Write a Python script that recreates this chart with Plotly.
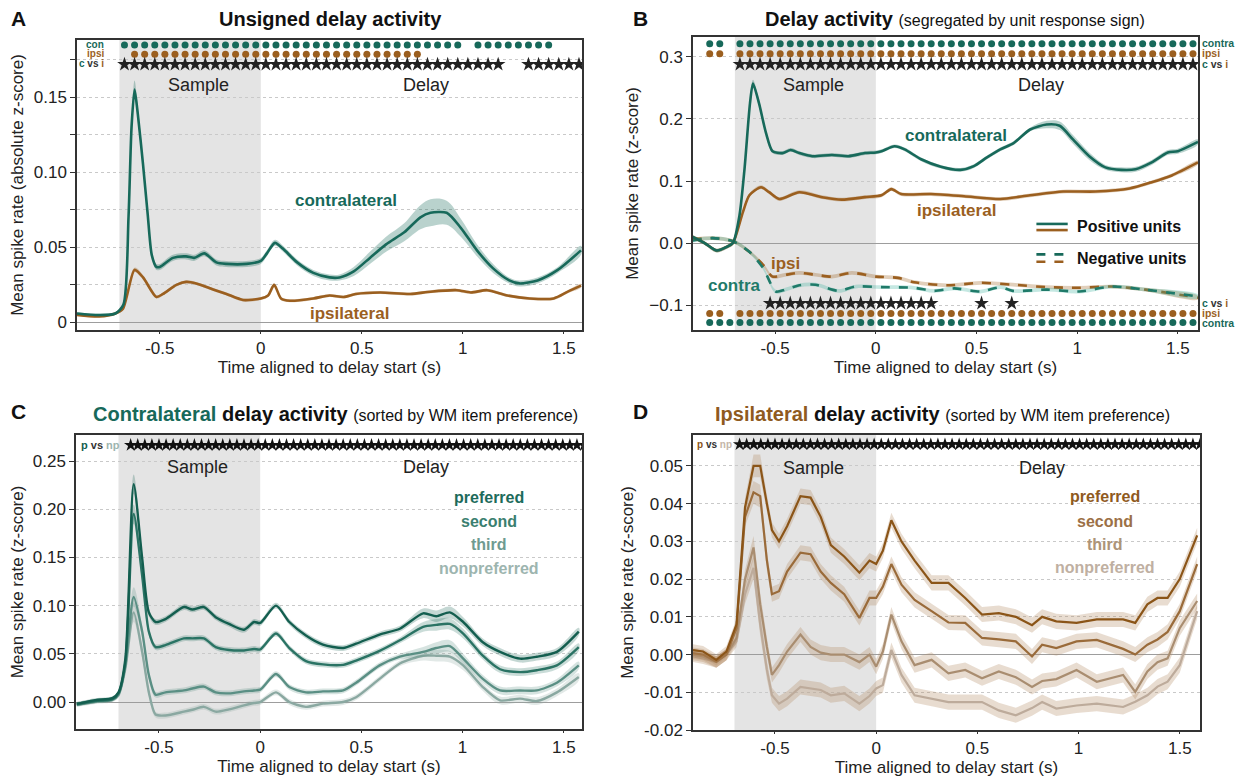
import numpy as np
import plotly.graph_objects as go

FONT = "Liberation Sans, Arial, sans-serif"
CONTRA = "#17695a"
IPSI = "#9b5f1f"
GRID = "#c9c9c9"
SAMPLE_FILL = "#e4e4e4"
SAMPLE_START, DELAY_START = -0.7, 0.0
BIN = 0.05
BIN_CD = 0.035

# ---------------- Panel A: unsigned activity ----------------
A_T_CON = [-0.91, -0.80, -0.72, -0.68, -0.655, -0.64, -0.625, -0.61, -0.583, -0.56, -0.54, -0.517, -0.50,
           -0.435, -0.37, -0.33, -0.28, -0.22, -0.17, -0.07, 0.0, 0.03, 0.07, 0.11, 0.18, 0.26, 0.34, 0.39,
           0.46, 0.54, 0.62, 0.71, 0.79, 0.84, 0.92, 0.99, 1.07, 1.15, 1.23, 1.28, 1.37, 1.47, 1.585]
A_CON = [0.006, 0.005, 0.006, 0.012, 0.070, 0.130, 0.155, 0.140, 0.105, 0.072, 0.045, 0.037, 0.037,
         0.043, 0.044, 0.043, 0.046, 0.040, 0.039, 0.039, 0.041, 0.046, 0.053, 0.049, 0.040, 0.033, 0.030, 0.030,
         0.034, 0.043, 0.052, 0.060, 0.070, 0.073, 0.073, 0.063, 0.048, 0.036, 0.028, 0.026, 0.028, 0.035, 0.048]
A_CON_SEM = [0.0008, 0.0008, 0.0008, 0.0015, 0.004, 0.005, 0.006, 0.005, 0.004, 0.003, 0.002, 0.002, 0.002,
             0.002, 0.002, 0.002, 0.002, 0.002, 0.002, 0.002, 0.002, 0.002, 0.002, 0.002, 0.002, 0.002, 0.002, 0.002,
             0.003, 0.004, 0.005, 0.006, 0.008, 0.009, 0.008, 0.006, 0.004, 0.003, 0.002, 0.002, 0.002, 0.002, 0.003]
A_T_IPSI = [-0.91, -0.80, -0.72, -0.683, -0.625, -0.583, -0.517, -0.484, -0.418, -0.37, -0.32, -0.236, -0.17,
            -0.088, 0.0, 0.036, 0.066, 0.10, 0.144, 0.26, 0.34, 0.41, 0.47, 0.59, 0.74, 0.84, 0.97, 1.04, 1.12,
            1.22, 1.33, 1.45, 1.52, 1.585]
A_IPSI = [0.005, 0.004, 0.006, 0.009, 0.035, 0.030, 0.017, 0.019, 0.025, 0.027, 0.026, 0.022, 0.019,
          0.015, 0.016, 0.018, 0.025, 0.016, 0.0145, 0.016, 0.018, 0.017, 0.019, 0.020, 0.019, 0.0205, 0.0215,
          0.020, 0.0215, 0.018, 0.016, 0.016, 0.0205, 0.0245]
A_IPSI_SEM = [0.0006] * 3 + [0.001, 0.0015, 0.0015] + [0.001] * 27 + [0.0012]
A_CON_SIG = [(-0.675, 0.975), (1.075, 1.425)]
A_IPSI_SIG = [(-0.625, 0.775)]
A_CVI_SIG = [(-0.675, 1.175), (1.325, 1.575)]

# ---------------- Panel B: signed activity ----------------
B_T_CON_POS = [-0.91, -0.85, -0.79, -0.74, -0.71, -0.677, -0.652, -0.625, -0.61, -0.58, -0.546, -0.513, -0.464,
               -0.423, -0.38, -0.316, -0.218, -0.136, -0.054, 0.0, 0.028, 0.093, 0.143, 0.225, 0.323, 0.42,
               0.487, 0.552, 0.618, 0.684, 0.766, 0.848, 0.913, 0.979, 1.06, 1.14, 1.22, 1.29, 1.37, 1.45, 1.50, 1.60]
B_CON_POS = [0.010, 0.0, -0.012, -0.006, 0.0, 0.045, 0.120, 0.225, 0.257, 0.225, 0.178, 0.148, 0.145,
             0.150, 0.145, 0.140, 0.142, 0.140, 0.145, 0.146, 0.148, 0.156, 0.151, 0.135, 0.123, 0.118,
             0.124, 0.138, 0.151, 0.161, 0.183, 0.191, 0.189, 0.167, 0.140, 0.122, 0.118, 0.119, 0.130, 0.146, 0.148, 0.163]
B_CON_POS_SEM = [0.003] * 5 + [0.004, 0.005, 0.006, 0.006, 0.005, 0.004] + [0.003] * 20 + [0.006, 0.007, 0.007, 0.006] + [0.004] * 7
B_T_IPSI_POS = [-0.91, -0.85, -0.79, -0.74, -0.71, -0.66, -0.628, -0.57, -0.53, -0.48, -0.38, -0.267, -0.169,
                -0.054, 0.028, 0.077, 0.126, 0.274, 0.438, 0.618, 0.766, 0.93, 1.09, 1.26, 1.37, 1.47, 1.60]
B_IPSI_POS = [0.010, 0.0, -0.012, -0.006, 0.0, 0.050, 0.077, 0.090, 0.082, 0.071, 0.082, 0.074, 0.070,
              0.074, 0.077, 0.087, 0.079, 0.079, 0.0755, 0.071, 0.077, 0.083, 0.083, 0.088, 0.098, 0.109, 0.130]
B_IPSI_POS_SEM = [0.003] * 27
B_T_CON_NEG = [-0.91, -0.81, -0.71, -0.628, -0.56, -0.497, -0.45, -0.38, -0.30, -0.185, -0.10, 0.028, 0.19,
               0.29, 0.39, 0.52, 0.62, 0.68, 0.85, 1.01, 1.175, 1.34, 1.60]
B_CON_NEG = [0.004, 0.008, 0.003, -0.014, -0.040, -0.078, -0.075, -0.068, -0.067, -0.077, -0.070, -0.071, -0.072,
             -0.077, -0.073, -0.078, -0.071, -0.077, -0.075, -0.078, -0.070, -0.075, -0.086]
B_CON_NEG_SEM = [0.003] * 23
B_T_IPSI_NEG = [-0.91, -0.81, -0.71, -0.628, -0.56, -0.513, -0.464, -0.38, -0.30, -0.218, -0.12, 0.0, 0.11,
                0.19, 0.356, 0.52, 0.68, 0.85, 1.01, 1.175, 1.34, 1.60]
B_IPSI_NEG = [0.006, 0.008, 0.003, -0.014, -0.035, -0.054, -0.052, -0.048, -0.051, -0.054, -0.048, -0.054, -0.056,
              -0.063, -0.068, -0.064, -0.067, -0.071, -0.072, -0.070, -0.075, -0.088]
B_IPSI_NEG_SEM = [0.003] * 22
B_TOP_CON_SIG = [(-0.825, -0.775), (-0.675, 1.575)]
B_TOP_IPSI_SIG = [(-0.825, -0.775), (-0.675, 1.575)]
B_TOP_CVI_SIG = [(-0.675, 1.575)]
B_BOT_CVI_SIG = [(-0.525, 0.275), (0.525, 0.525), (0.675, 0.675)]
B_BOT_IPSI_SIG = [(-0.825, -0.775), (-0.675, 1.575)]
B_BOT_CON_SIG = [(-0.825, 1.575)]

# ---------------- Panel C: contralateral by preference ----------------
C_T = [-0.906, -0.815, -0.73, -0.70, -0.666, -0.625, -0.583, -0.55, -0.517, -0.468, -0.377, -0.335, -0.278,
       -0.22, -0.154, -0.08, -0.03, 0.0, 0.078, 0.144, 0.226, 0.31, 0.41, 0.474, 0.59, 0.69, 0.805, 0.87,
       0.937, 1.003, 1.10, 1.185, 1.284, 1.367, 1.466, 1.574]
C_PREF = [-0.002, 0.002, 0.004, 0.010, 0.045, 0.226, 0.149, 0.093, 0.083, 0.086, 0.0985, 0.096, 0.0985,
          0.088, 0.081, 0.075, 0.083, 0.082, 0.100, 0.083, 0.069, 0.0595, 0.056, 0.0605, 0.070, 0.076, 0.092, 0.089,
          0.093, 0.083, 0.062, 0.052, 0.045, 0.047, 0.052, 0.073]
C_SECOND = [-0.002, 0.001, 0.003, 0.009, 0.041, 0.195, 0.131, 0.073, 0.057, 0.059, 0.066, 0.066, 0.066,
            0.057, 0.054, 0.0535, 0.055, 0.0545, 0.071, 0.056, 0.0425, 0.039, 0.0385, 0.043, 0.053, 0.064, 0.078, 0.080,
            0.081, 0.071, 0.048, 0.034, 0.031, 0.033, 0.038, 0.057]
C_THIRD = [-0.003, 0.001, 0.003, 0.008, 0.038, 0.109, 0.073, 0.028, 0.0076, 0.010, 0.012, 0.014, 0.016,
           0.010, 0.009, 0.011, 0.012, 0.0128, 0.029, 0.0155, 0.010, 0.011, 0.012, 0.020, 0.038, 0.047, 0.052, 0.056,
           0.058, 0.045, 0.024, 0.012, 0.012, 0.012, 0.020, 0.038]
C_NONPREF = [-0.003, 0.0, 0.002, 0.007, 0.035, 0.093, 0.052, 0.010, -0.013, -0.014, -0.010, -0.008, -0.005,
             -0.010, -0.0076, -0.0035, -0.001, 0.0, 0.010, 0.0, -0.005, -0.0017, 0.0, 0.005, 0.024, 0.040, 0.048, 0.048,
             0.047, 0.038, 0.0155, 0.0017, 0.0035, 0.001, 0.010, 0.026]
C_SEM = [0.002] * 4 + [0.004, 0.010, 0.006, 0.004] + [0.003] * 18 + [0.005, 0.006, 0.006, 0.005] + [0.004] * 6
C_SIG = [(-0.64, 1.6)]

# ---------------- Panel D: ipsilateral by preference ----------------
D_T = [-0.905, -0.855, -0.79, -0.74, -0.69, -0.648, -0.606, -0.573, -0.54, -0.515, -0.48, -0.44, -0.374, -0.324,
       -0.274, -0.224, -0.158, -0.083, -0.033, 0.0, 0.033, 0.075, 0.125, 0.19, 0.274, 0.357, 0.44, 0.523,
       0.606, 0.69, 0.77, 0.82, 0.89, 0.99, 1.09, 1.22, 1.28, 1.34, 1.39, 1.44, 1.50, 1.586]
D_PREF = [0.0012, 0.0008, -0.0014, 0.0008, 0.008, 0.039, 0.050, 0.050, 0.040, 0.033, 0.030, 0.034, 0.042, 0.0416,
          0.0365, 0.029, 0.026, 0.0217, 0.0249, 0.024, 0.0275, 0.0356, 0.030, 0.0249, 0.019, 0.019, 0.015, 0.0106,
          0.011, 0.010, 0.0078, 0.010, 0.0088, 0.0084, 0.0093, 0.0093, 0.0084, 0.0133, 0.015, 0.015, 0.020, 0.0316]
D_SECOND = [0.0004, 0.0, -0.0019, 0.0, 0.007, 0.0365, 0.043, 0.042, 0.025, 0.016, 0.0168, 0.022, 0.027, 0.0266,
            0.022, 0.019, 0.016, 0.0097, 0.015, 0.015, 0.018, 0.024, 0.0185, 0.0145, 0.0115, 0.0085, 0.0084, 0.0044,
            0.0040, 0.0035, -0.0005, 0.0026, 0.0017, 0.0035, 0.0039, 0.0015, 0.0, 0.0026, 0.004, 0.006, 0.0115, 0.024]
D_THIRD = [0.0, -0.0005, -0.002, 0.0, 0.0044, 0.020, 0.0284, 0.0133, 0.002, -0.0054, -0.0028, 0.0008, 0.0053, 0.002,
           0.0005, 0.0, 0.0, -0.002, 0.0, -0.0032, 0.0008, 0.0106, 0.0035, -0.0028, -0.0014, -0.005, -0.0041, -0.0063,
           -0.0045, -0.006, -0.0086, -0.007, -0.0065, -0.0041, -0.0072, -0.0054, -0.0099, -0.0045, -0.002, -0.001, 0.007, 0.0142]
D_NONPREF = [-0.0005, -0.001, -0.002, 0.0, 0.0035, 0.016, 0.023, 0.008, -0.004, -0.0108, -0.013, -0.0117, -0.0086,
             -0.009, -0.0094, -0.0108, -0.0103, -0.013, -0.011, -0.009, -0.0081, 0.0012, -0.0054, -0.0108, -0.0117,
             -0.0126, -0.0126, -0.0126, -0.0148, -0.0161, -0.0142, -0.0126, -0.0143, -0.0135, -0.013, -0.0139, -0.0125,
             -0.0108, -0.0085, -0.0072, -0.0028, 0.0115]
D_SEM = [0.0015] * 5 + [0.0025, 0.003, 0.003, 0.0025] + [0.002] * 33
D_SIG = [(-0.675, 1.6)]

C_COLORS = ["#135e4f", "#2a7364", "#5a8f84", "#8aa8a1"]
C_TEXT = ["#1d6b5b", "#3b7f70", "#6e9b91", "#9db5af"]
D_COLORS = ["#8b5518", "#9a6b3a", "#a98d70", "#bdab9b"]
D_TEXT = ["#8f5a1e", "#9c7046", "#ad9478", "#bfb0a2"]
CURVE_NAMES = ["preferred", "second", "third", "nonpreferred"]


def rgba(hexc, a):
    h = hexc.lstrip("#")
    return "rgba(%d,%d,%d,%.2f)" % (int(h[0:2], 16), int(h[2:4], 16), int(h[4:6], 16), a)


def expand(segments, step):
    out = []
    for s, e in segments:
        out.extend(np.round(np.arange(s, e + step * 0.5, step), 4).tolist())
    return out


fig = go.Figure()


def add_curve(ax, t, v, sem, color, dash="solid", width=2.6, band_alpha=0.3, band_color=None, shape="spline"):
    xa, ya = ("x", "y") if ax == 1 else ("x%d" % ax, "y%d" % ax)
    t = list(t)
    up = [a + b for a, b in zip(v, sem)]
    lo = [a - b for a, b in zip(v, sem)]
    fig.add_trace(go.Scatter(x=t + t[::-1], y=up + lo[::-1], fill="toself",
                             fillcolor=rgba(band_color or color, band_alpha), line=dict(width=0, shape=shape),
                             hoverinfo="skip", showlegend=False, xaxis=xa, yaxis=ya))
    fig.add_trace(go.Scatter(x=t, y=v, mode="lines", line=dict(color=color, width=width, dash=dash, shape=shape,
                                                                smoothing=0.7),
                             showlegend=False, xaxis=xa, yaxis=ya))


def add_sig(ax, times, yval, color, symbol="circle", size=7):
    xa, ya = ("x", "y") if ax == 1 else ("x%d" % ax, "y%d" % ax)
    fig.add_trace(go.Scatter(x=times, y=[yval] * len(times), mode="markers",
                             marker=dict(symbol=symbol, color=color, size=size, line=dict(width=0)),
                             showlegend=False, xaxis=xa, yaxis=ya, cliponaxis=True))


# Panel A
add_curve(1, A_T_IPSI, A_IPSI, A_IPSI_SEM, IPSI)
add_curve(1, A_T_CON, A_CON, A_CON_SEM, CONTRA)
add_sig(1, expand(A_CON_SIG, BIN), 0.1847, CONTRA)
add_sig(1, expand(A_IPSI_SIG, BIN), 0.1785, IPSI)
add_sig(1, expand(A_CVI_SIG, BIN), 0.1718, "#222222", "star", 11)

# Panel B
add_curve(2, B_T_IPSI_NEG, B_IPSI_NEG, B_IPSI_NEG_SEM, IPSI, dash="dash")
add_curve(2, B_T_CON_NEG, B_CON_NEG, B_CON_NEG_SEM, "#1f7a69", dash="dash", band_color="#3fb3a0")
add_curve(2, B_T_IPSI_POS, B_IPSI_POS, B_IPSI_POS_SEM, IPSI)
add_curve(2, B_T_CON_POS, B_CON_POS, B_CON_POS_SEM, CONTRA)
add_sig(2, expand(B_TOP_CON_SIG, BIN), 0.321, CONTRA)
add_sig(2, expand(B_TOP_IPSI_SIG, BIN), 0.305, IPSI)
add_sig(2, expand(B_TOP_CVI_SIG, BIN), 0.288, "#222222", "star", 11)
add_sig(2, expand(B_BOT_CVI_SIG, BIN), -0.097, "#222222", "star", 11)
add_sig(2, expand(B_BOT_IPSI_SIG, BIN), -0.1135, IPSI)
add_sig(2, expand(B_BOT_CON_SIG, BIN), -0.128, CONTRA)

# Panel C (draw nonpreferred first)
for i in [3, 2, 1, 0]:
    vals = [C_PREF, C_SECOND, C_THIRD, C_NONPREF][i]
    add_curve(3, C_T, vals, C_SEM, C_COLORS[i], width=2.4, band_alpha=0.25)
add_sig(3, expand(C_SIG, BIN_CD), 0.2665, "#111111", "star", 10)

# Panel D
for i in [3, 2, 1, 0]:
    vals = [D_PREF, D_SECOND, D_THIRD, D_NONPREF][i]
    add_curve(4, D_T, vals, D_SEM, D_COLORS[i], width=2.2, band_alpha=0.3, band_color="#b48c64", shape="linear")
add_sig(4, expand(D_SIG, BIN_CD), 0.0557, "#111111", "star", 10)

# The page body has an 8px margin, so the figure is drawn 8px smaller and positions are offset.
OFF = 8
W, H = 1251 - OFF, 778 - OFF


def px(x0, x1):
    return [(x0 - OFF) / W, (x1 - OFF) / W]


def py(y0, y1):
    return [1 - (y1 - OFF) / H, 1 - (y0 - OFF) / H]


def pxp(x):
    return (x - OFF) / W


def pyp(y):
    return 1 - (y - OFF) / H


XT = [-0.5, 0, 0.5, 1, 1.5]
XTT = ["-0.5", "0", "0.5", "1", "1.5"]
tickfont = dict(family=FONT, size=17, color="#222222")
titlefont = dict(family=FONT, size=17, color="#222222")


def xaxis(dom, anchor):
    return dict(domain=dom, anchor=anchor, range=[-0.91, 1.59], tickvals=XT, ticktext=XTT, showgrid=False,
                zeroline=False, showline=True, linecolor="#333333", linewidth=1.5, mirror=True, ticks="outside",
                ticklen=2, tickcolor="#333333", tickfont=tickfont, automargin=False,
                title=dict(text="Time aligned to delay start (s)", font=titlefont, standoff=1))


def yaxis(dom, anchor, rng, tv, tt, title, zl=True):
    return dict(domain=dom, anchor=anchor, range=rng, tickvals=tv, ticktext=tt, showgrid=True, gridcolor=GRID,
                griddash="dot", gridwidth=1, zeroline=zl, zerolinecolor="#9d9d9d", zerolinewidth=1,
                showline=True, linecolor="#333333", linewidth=1.5, mirror=True, ticks="outside", ticklen=5,
                tickcolor="#333333", tickfont=tickfont, automargin=False,
                title=dict(text=title, font=titlefont, standoff=6))


A_YT = [0, 0.025, 0.05, 0.075, 0.10, 0.125, 0.15, 0.175]
A_YTT = ["0", "", "0.05", "", "0.10", "", "0.15", ""]
B_YT = [-0.1, 0.0, 0.1, 0.2, 0.3]
B_YTT = ["\u22120.1", "0.0", "0.1", "0.2", "0.3"]
C_YT = [0.0, 0.05, 0.10, 0.15, 0.20, 0.25]
C_YTT = ["0.00", "0.05", "0.10", "0.15", "0.20", "0.25"]
D_YT = [-0.02, -0.01, 0.0, 0.01, 0.02, 0.03, 0.04, 0.05]
D_YTT = ["-0.02", "-0.01", "0.00", "0.01", "0.02", "0.03", "0.04", "0.05"]

layout = dict(
    width=W, height=H, margin=dict(l=0, r=0, t=0, b=0, autoexpand=False), plot_bgcolor="white",
    paper_bgcolor="white", font=dict(family=FONT, color="#222222"), showlegend=False,
    xaxis=xaxis(px(77, 582), "y"),
    yaxis=yaxis(py(40, 330), "x", [-0.005, 0.188], A_YT, A_YTT, "Mean spike rate (absolute z-score)"),
    xaxis2=xaxis(px(693, 1198), "y2"),
    yaxis2=yaxis(py(37, 330), "x2", [-0.14, 0.332], B_YT, B_YTT, "Mean spike rate (z-score)"),
    xaxis3=xaxis(px(76, 582), "y3"),
    yaxis3=yaxis(py(435, 729), "x3", [-0.028, 0.277], C_YT, C_YTT, "Mean spike rate (z-score)"),
    xaxis4=xaxis(px(693, 1200), "y4"),
    yaxis4=yaxis(py(435, 730), "x4", [-0.02, 0.0582], D_YT, D_YTT, "Mean spike rate (z-score)"),
)
fig.update_layout(**layout)
fig.layout.xaxis2.range = [-0.908, 1.6]
fig.layout.xaxis4.range = [-0.905, 1.6]

# sample shading
shapes = []
for k in ["", "2", "3", "4"]:
    shapes.append(dict(type="rect", xref="x" + k, yref="y%s domain" % k, x0=SAMPLE_START, x1=DELAY_START,
                       y0=0, y1=1, fillcolor=SAMPLE_FILL, line=dict(width=0), layer="below"))

# legend glyphs in B
for yy, col, dash in [(0.362, CONTRA, "solid"), (0.341, IPSI, "solid"),
                      (0.258, CONTRA, "dash"), (0.233, IPSI, "dash")]:
    shapes.append(dict(type="line", xref="x2 domain", yref="y2 domain", x0=0.68, x1=0.742, y0=yy, y1=yy,
                       line=dict(color=col, width=2.6, dash=dash)))
fig.update_layout(shapes=shapes)

ann = []


def A(x, y, text, xref, yref, size=17, color="#222222", xanchor="center", yanchor="middle", bold=False):
    if bold:
        text = "<b>%s</b>" % text
    ann.append(dict(x=x, y=y, xref=xref, yref=yref, text=text, showarrow=False, xanchor=xanchor,
                    yanchor=yanchor, font=dict(family=FONT, size=size, color=color)))


# Panel letters and titles
for lx, ly, letter in [(18, 18, "A"), (640, 18, "B"), (18, 412, "C"), (640, 412, "D")]:
    A(pxp(lx), pyp(ly), letter, "paper", "paper", size=21, color="#111111", bold=True)
A(pxp(330), pyp(19), "Unsigned delay activity", "paper", "paper", size=20, color="#111111", bold=True)
A(pxp(955), pyp(19),
  "<b>Delay activity</b> <span style='font-size:16px'>(segregated by unit response sign)</span>",
  "paper", "paper", size=20, color="#111111")
A(pxp(335), pyp(414),
  "<b><span style='color:%s'>Contralateral</span> delay activity</b> "
  "<span style='font-size:16px'>(sorted by WM item preference)</span>" % CONTRA,
  "paper", "paper", size=20, color="#111111")
A(pxp(943), pyp(414),
  "<b><span style='color:%s'>Ipsilateral</span> delay activity</b> "
  "<span style='font-size:16px'>(sorted by WM item preference)</span>" % "#8f5a1e",
  "paper", "paper", size=20, color="#111111")

# Sample / Delay
for k, ys in [("", 0.158), ("2", 0.255), ("3", 0.244), ("4", 0.0495)]:
    A(-0.31, ys, "Sample", "x" + k, "y" + k, size=18)
    A(0.82, ys, "Delay", "x" + k, "y" + k, size=18)

# Panel A labels
A(0.42, 0.081, "contralateral", "x", "y", size=17, color=CONTRA, bold=True)
A(0.44, 0.006, "ipsilateral", "x", "y", size=17, color=IPSI, bold=True)
A(-0.765, 0.1850, "con", "x", "y", size=10, color=CONTRA, xanchor="right", bold=True)
A(-0.765, 0.1787, "ipsi", "x", "y", size=10, color=IPSI, xanchor="right", bold=True)
A(-0.765, 0.1722, "<span style='color:%s'>c</span> vs <span style='color:%s'>i</span>" % (CONTRA, IPSI),
  "x", "y", size=10, color="#333333", xanchor="right", bold=True)

# Panel B labels
A(0.40, 0.174, "contralateral", "x2", "y2", size=17, color=CONTRA, bold=True)
A(0.40, 0.052, "ipsilateral", "x2", "y2", size=17, color=IPSI, bold=True)
A(-0.45, -0.033, "ipsi", "x2", "y2", size=17, color=IPSI, bold=True)
A(-0.70, -0.068, "contra", "x2", "y2", size=17, color="#1f7a69", bold=True)
A(0.757, 0.352, "Positive units", "x2 domain", "y2 domain", size=16, color="#111111", xanchor="left", bold=True)
A(0.757, 0.245, "Negative units", "x2 domain", "y2 domain", size=16, color="#111111", xanchor="left", bold=True)
for yv, txt in [(0.322, "<span style='color:%s'>contra</span>" % CONTRA),
                (0.306, "<span style='color:%s'>ipsi</span>" % IPSI),
                (0.289, "<span style='color:%s'>c</span> vs <span style='color:%s'>i</span>" % (CONTRA, IPSI)),
                (-0.096, "<span style='color:%s'>c</span> vs <span style='color:%s'>i</span>" % (CONTRA, IPSI)),
                (-0.1125, "<span style='color:%s'>ipsi</span>" % IPSI),
                (-0.129, "<span style='color:%s'>contra</span>" % CONTRA)]:
    ann.append(dict(x=1.003, y=yv, xref="x2 domain", yref="y2", text="<b>%s</b>" % txt, showarrow=False,
                    xanchor="left", yanchor="middle", font=dict(family=FONT, size=10.5, color="#333333")))

# Panel C / D labels
for i, name in enumerate(CURVE_NAMES):
    A(1.13, [0.2125, 0.1875, 0.163, 0.139][i], name, "x3", "y3", size=16, color=C_TEXT[i], bold=True)
    A(1.13, [0.0418, 0.0354, 0.0293, 0.0231][i], name, "x4", "y4", size=16, color=D_TEXT[i], bold=True)
A(-0.897, 0.2665, "<b><span style='color:%s'>p</span> vs <span style='color:#9db5af'>np</span></b>" % C_COLORS[0],
  "x3", "y3", size=11, color="#333333", xanchor="left")
A(-0.896, 0.0557, "<b><span style='color:%s'>p</span> vs <span style='color:#c5b6a8'>np</span></b>" % D_COLORS[0],
  "x4", "y4", size=10, color="#333333", xanchor="left")

fig.update_layout(annotations=ann)
fig.write_html("out.html")
